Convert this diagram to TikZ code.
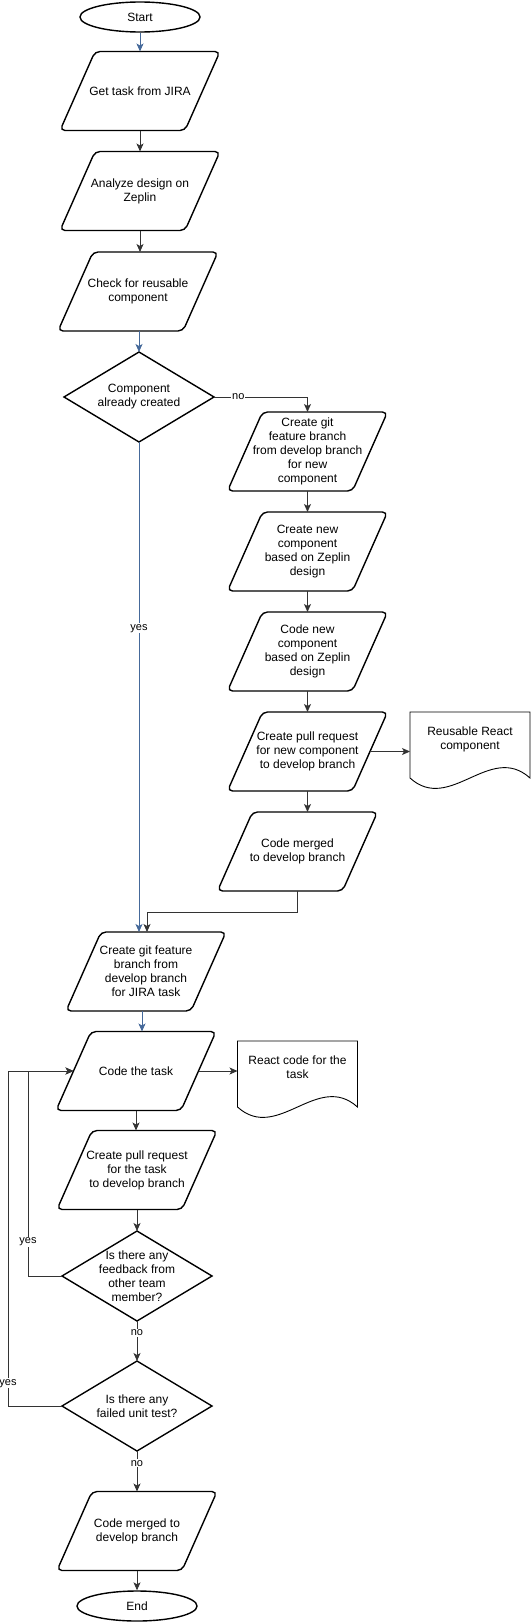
\documentclass[tikz,border=0pt]{standalone}
\usepackage{fontspec}
\setmainfont{Liberation Sans}
\usetikzlibrary{shapes.geometric}
\usetikzlibrary{arrows.meta}

\definecolor{flowblue}{HTML}{45699A}
\definecolor{flowline}{HTML}{333333}

\tikzset{
  boxline/.style={draw=black, line width=1.4pt, rounded corners=5pt},
  iotext/.style={minimum width=160pt, minimum height=79pt, inner sep=0pt, outer sep=0pt, align=center, font=\fontsize{12}{14}\selectfont},
  dectext/.style={minimum width=150pt, minimum height=90pt, inner sep=0pt, outer sep=0pt, align=center, font=\fontsize{12}{14}\selectfont},
  term/.style={ellipse, draw, line width=1.4pt, minimum width=120pt, minimum height=30pt, inner sep=0pt, font=\fontsize{12}{14}\selectfont},
  doctext/.style={minimum width=120pt, inner xsep=0pt, inner ysep=15pt, outer sep=0pt, align=center, anchor=north, font=\fontsize{12}{14}\selectfont},
  arr/.style={->, draw=flowline, line width=0.8pt},
  barr/.style={->, draw=flowblue, line width=0.8pt},
  lbl/.style={fill=white, inner sep=1pt, font=\fontsize{11}{13}\selectfont},
}

\newcommand{\iobox}[3]{%
  \node[iotext] (#1) at (#2) {#3};
  \draw[boxline] ([xshift=35pt]#1.north west) -- (#1.north east) -- ([xshift=-35pt]#1.south east) -- (#1.south west) -- cycle;
}
\newcommand{\decbox}[3]{%
  \node[dectext] (#1) at (#2) {#3};
  \draw[boxline, rounded corners=0pt] (#1.north) -- (#1.east) -- (#1.south) -- (#1.west) -- cycle;
}
\newcommand{\docbox}[3]{%
  \node[doctext] (#1) at (#2) {#3};
  \draw[line width=0.9pt] (#1.north west) -- (#1.north east) -- ([yshift=-66pt]#1.north east) .. controls ([xshift=-40pt,yshift=-30pt]#1.north east) and ([xshift=40pt,yshift=-102pt]#1.north west) .. ([yshift=-66pt]#1.north west) -- cycle;
}

\begin{document}
\begin{tikzpicture}[x=1pt,y=-1pt,>={Stealth[length=8pt,width=7pt,inset=2pt]}]
  \useasboundingbox (0,0) rectangle (531,1622);

  % main column
  \node[term] (start) at (140,17) {Start};
  \iobox{get}{140,91}{Get task from JIRA}
  \iobox{an}{140,191}{Analyze design on\\Zeplin}
  \iobox{chk}{138,291.5}{Check for reusable\\component}
  \decbox{comp}{139,397}{Component\\already created}

  % new component branch
  \iobox{bn}{307.5,451.5}{Create git\\feature branch\\from develop branch\\for new\\component}
  \iobox{nc}{307.5,551.5}{Create new\\component\\based on Zeplin\\design}
  \iobox{cn}{307.5,651.5}{Code new\\component\\based on Zeplin\\design}
  \iobox{prn}{307.5,751.5}{Create pull request\\for new component\\to develop branch}
  \docbox{rr}{470,712}{Reusable React\\component}
  \iobox{m1}{297.5,851.5}{Code merged\\to develop branch}

  % task
  \iobox{bj}{146,971.5}{Create git feature\\branch from\\develop branch\\for JIRA task}
  \iobox{ct}{136,1071}{Code the task}
  \docbox{rc}{297.5,1041}{React code for the\\task}
  \iobox{prt}{137,1170}{Create pull request\\for the task\\to develop branch}
  \decbox{fb}{137,1276}{Is there any\\feedback from\\other team\\member?}
  \decbox{ft}{137,1406}{Is there any\\failed unit test?}
  \iobox{m2}{137,1531}{Code merged to\\develop branch}
  \node[term] (end) at (137,1606) {End};

  % connectors
  \draw[barr] (start) -- (get);
  \draw[arr] (get) -- (an);
  \draw[arr] (an.south) -- (an.south |- chk.north);
  \draw[barr] (comp.north |- chk.south) -- (comp.north);
  \draw[arr] (comp.east) -| node[lbl, pos=0.13] {no} (bn.north);
  \draw[arr] (bn) -- (nc);
  \draw[arr] (nc) -- (cn);
  \draw[arr] (cn) -- (prn);
  \draw[arr] ([xshift=-17.5pt]prn.east) -- (prn.east -| rr.west);
  \draw[arr] (prn.south) -- (prn.south |- m1.north);
  \draw[arr] (m1.south) -- ++(0,21) -| ([xshift=1pt]bj.north);
  \draw[barr] (comp.south) -- node[lbl, pos=0.38] {yes} (comp.south |- bj.north);
  \draw[barr] ([xshift=-4pt]bj.south) -- ([xshift=-4pt]bj.south |- ct.north);
  \draw[arr] ([xshift=-17.5pt]ct.east) -- (ct.east -| rc.west);
  \draw[arr] (ct.south) -- (ct.south |- prt.north);
  \draw[arr] (prt) -- (fb);
  \draw[arr] (fb) -- node[lbl, pos=0.3] {no} (ft);
  \draw[arr] (ft) -- node[lbl, pos=0.3] {no} (m2);
  \draw[arr] (m2) -- (end);
  \draw[arr] (fb.west) -- ++(-34,0) |- node[lbl, pos=0.083] {yes} ([xshift=17.5pt]ct.west);
  \draw[arr] (ft.west) -- ++(-54,0) |- node[lbl, pos=0.034] {yes} ([xshift=17.5pt]ct.west);
\end{tikzpicture}
\end{document}
